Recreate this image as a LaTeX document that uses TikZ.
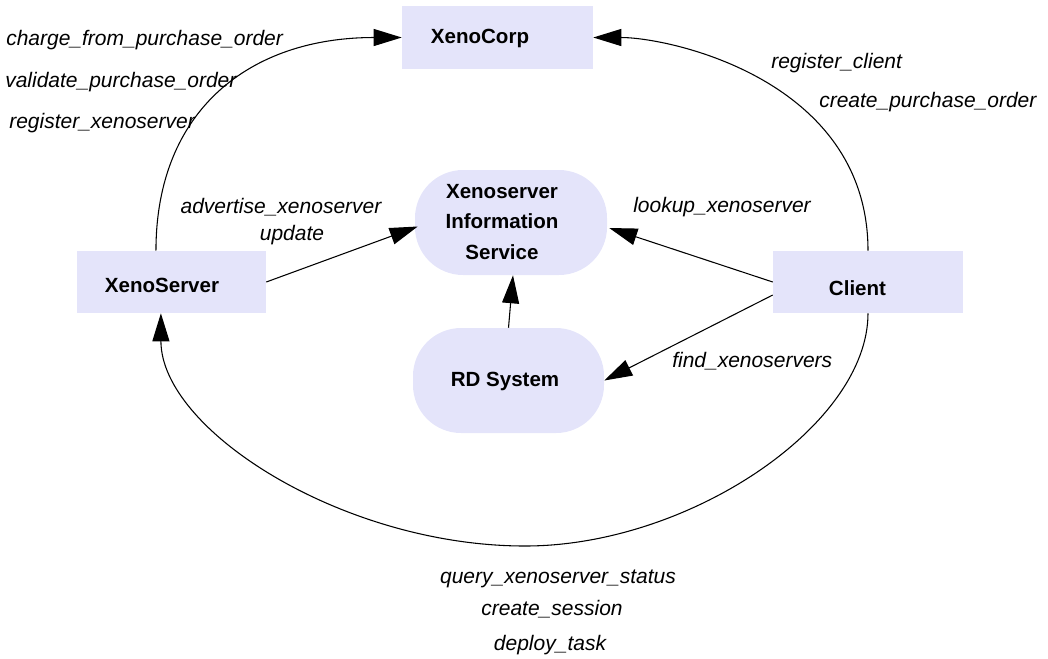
\documentclass[tikz,border=0pt]{standalone}
\usepackage{fontspec}
\setmainfont{Liberation Sans}
\usetikzlibrary{arrows.meta,calc}
\definecolor{nodefill}{RGB}{228,228,250}
\tikzset{
  box/.style={draw=none, fill=nodefill, inner sep=0pt, rectangle},
  roundbox/.style={box, rounded corners=36pt},
  bt/.style={font=\bfseries\fontsize{15.4pt}{23pt}\selectfont, inner sep=0pt},
  it/.style={font=\itshape\fontsize{15.75pt}{21pt}\selectfont, inner sep=0pt},
  conn/.style={line width=0.8pt, -{Triangle[length=21pt,width=12.75pt]}}
}
\begin{document}
\begin{tikzpicture}[x=0.75pt,y=-0.75pt]
\useasboundingbox (0,0) rectangle (1048,658);
% boxes
\node[box, minimum width=143.25pt, minimum height=47.25pt] (xc) at (497.5,37.5) {};
\node[box, minimum width=141.75pt, minimum height=46.5pt] (xs) at (171.5,282) {};
\node[box, minimum width=142.5pt, minimum height=46.5pt] (cl) at (868,282) {};
\node[roundbox, minimum width=144pt, minimum height=78.75pt] (xis) at (511,222.5) {};
\node[roundbox, minimum width=143.25pt, minimum height=78.75pt] (rd) at (508.5,380.5) {};
% box texts
\node[bt, anchor=base] (xct) at (480,43) {XenoCorp};
\node[bt, anchor=base] (xst) at (162,292) {XenoServer};
\node[bt, anchor=base] (clt) at (857.5,295) {Client};
\node[bt, align=center] (xist) at (502,222) {Xenoserver\\Information\\Service};
\node[bt, anchor=base] (rdt) at (505,386) {RD System};
% labels
\node[it, anchor=base west] (l1) at (6,45) {charge\_from\_purchase\_order};
\node[it, anchor=base west] (l2) at (5,87) {validate\_purchase\_order};
\node[it, anchor=base west] (l3) at (9,128) {register\_xenoserver};
\node[it, anchor=base west] (l4) at (771,68) {register\_client};
\node[it, anchor=base west] (l5) at (819,107) {create\_purchase\_order};
\node[it, anchor=base] (l6) at (281,213) {advertise\_xenoserver};
\node[it, anchor=base] (l7) at (292,240) {update};
\node[it, anchor=base west] (l8) at (633,212) {lookup\_xenoserver};
\node[it, anchor=base west] (l9) at (672,367) {find\_xenoservers};
\node[it, anchor=base] (l10) at (558,583) {query\_xenoserver\_status};
\node[it, anchor=base] (l11) at (552,615) {create\_session};
\node[it, anchor=base] (l12) at (550,650) {deploy\_task};
% connectors
\coordinate (xsn) at ($(xs.north west)!0.418!(xs.north east)$);
\coordinate (xss) at ($(xs.south west)!0.444!(xs.south east)$);
\coordinate (bot) at (525,546);
\draw[conn] (xsn) .. controls (156,110) and (250,37.5) .. (xc.west);
\draw[conn] (cl.north) .. controls (868,80) and (670,37.5) .. (xc.east);
\draw[conn] (cl.south) .. controls (868,425) and (689,546) .. (bot)
  .. controls (343,546) and (161,430) .. (xss);
\draw[conn] (xs.east) -- ($(xis.west)+(3,4)$);
\draw[conn] (cl.west) -- ($(xis.east)+(2,5.5)$);
\draw[conn] ($(cl.west)+(0,13)$) -- (rd.east);
\draw[conn] (rd.north) -- ($(xis.south)+(2,0)$);
\end{tikzpicture}
\end{document}
